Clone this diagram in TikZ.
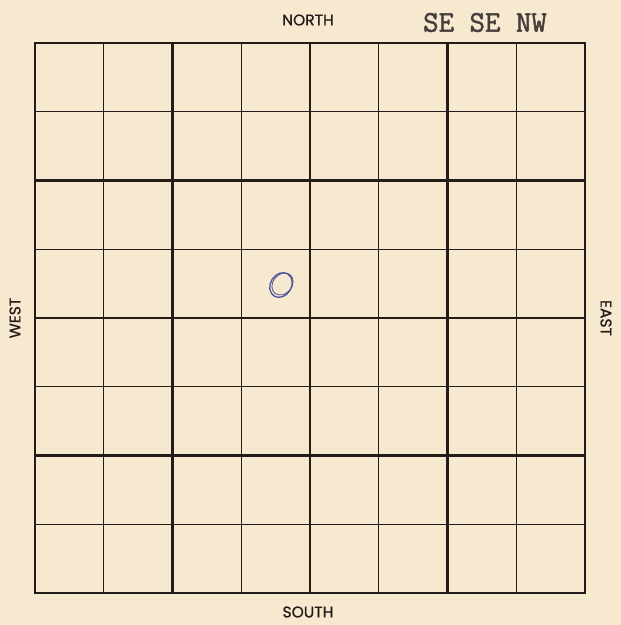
\documentclass[tikz,border=0pt]{standalone}
\usepackage{fontspec}
\newfontfamily\labelfont[FakeBold=0.8]{Poppins}
\newfontfamily\typefont[FakeBold=1.6]{Latin Modern Mono}
\usetikzlibrary{positioning}
\definecolor{paper}{RGB}{247,232,208}
\definecolor{ink}{RGB}{36,28,24}
\definecolor{pen}{RGB}{78,82,150}
\tikzset{
  % Base styles
  plat base/.style={x=1pt, y=-1pt, every node/.style={inner sep=0pt}},
  % Grid lines
  quarter line/.style={draw=ink, line width=1.3pt},
  section line/.style={draw=ink, line width=2.6pt, line cap=rect},
  % Labels
  compass label/.style={font=\labelfont\fontsize{15.5}{17}\selectfont, text=ink},
  stamp label/.style={font=\typefont\fontsize{30}{32}\selectfont, text=ink!85},
  % Hand mark
  pen mark/.style={draw=pen, line width=1.3pt},
}

\begin{document}
\begin{tikzpicture}[plat base]
% Paper
\fill[paper] (0,0) rectangle (621,625);
\useasboundingbox (0,0) rectangle (621,625);

% Quarter-quarter lines
\foreach \i in {1,3,5,7} {
  \draw[quarter line] ({35+68.75*\i},43) -- ({35+68.75*\i},593);
  \draw[quarter line] (35,{43+68.75*\i}) -- (585,{43+68.75*\i});
}

% Quarter lines
\foreach \i in {2,4,6} {
  \draw[section line] ({35+68.75*\i},43) -- ({35+68.75*\i},593);
  \draw[section line] (35,{43+68.75*\i}) -- (585,{43+68.75*\i});
}

% Section border
\draw[section line] (35,43) rectangle (585,593);

% Directions
\node[compass label] (north) at (308,20) {NORTH};
\node[compass label] (south) at (308,612) {SOUTH};
\node[compass label, rotate=90] (west) at (15,318) {WEST};
\node[compass label, rotate=-90] (east) at (606,318) {EAST};

% Typed location
\node[stamp label] (stamp) at (485,22.5) {SE SE NW};

% Pen mark
\draw[pen mark] (281,285) circle [x radius=13, y radius=10.5, rotate=58];
\draw[pen mark, line width=0.8pt] (282.5,284) circle [x radius=12, y radius=9.5, rotate=50];
\end{tikzpicture}
\end{document}
